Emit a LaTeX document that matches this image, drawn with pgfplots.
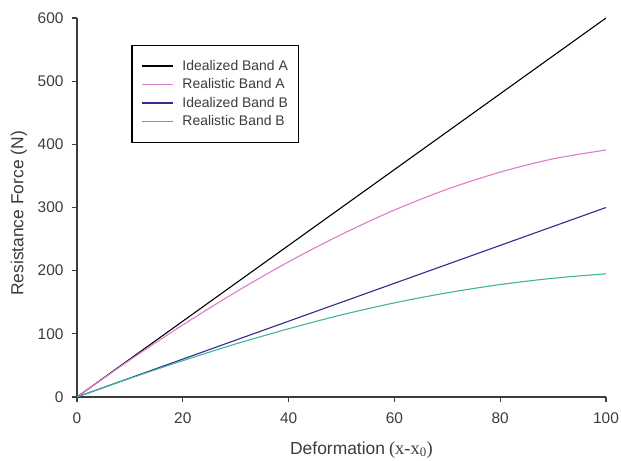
\documentclass[border=0pt]{standalone}
\usepackage{pgfplots}
\pgfplotsset{compat=1.18}
\usepackage{fontspec}
\setmainfont{Liberation Sans}
\newfontfamily\serifpart{Liberation Serif}

\definecolor{realA}{RGB}{222,125,200}
\definecolor{idealB}{RGB}{45,45,140}
\definecolor{tealB}{RGB}{65,180,155}
\definecolor{axisgray}{RGB}{60,60,60}

\begin{document}
\begin{tikzpicture}[x=1bp,y=1bp]
  \useasboundingbox (-77,-64) rectangle (544,397);
  \begin{axis}[
    at={(0,0)}, anchor=south west,
    scale only axis,
    width=529bp, height=379bp,
    xmin=0, xmax=100,
    ymin=0, ymax=600,
    axis lines=left,
    axis line style={-, line width=1.4bp, axisgray},
    tick align=outside,
    major tick length=5bp,
    tick style={axisgray, line width=1.2bp},
    xtick={0,20,...,100},
    ytick={0,100,...,600},
    ticklabel style={font=\fontsize{15.5}{16}\selectfont, text=axisgray},
    xticklabel style={yshift=-7bp},
    yticklabel style={xshift=-5bp},
    /pgf/number format/assume math mode=true,
    xlabel={Deformation\hspace{4bp}{\serifpart\fontsize{18.5}{19}\selectfont(x-x\textsubscript{0})}},
    ylabel={Resistance Force (N)},
    label style={font=\fontsize{17.5}{18}\selectfont, text=axisgray},
    xlabel style={yshift=-11bp, xshift=20bp},
    ylabel style={yshift=4bp, xshift=-6bp},
    legend style={at={(axis cs:10.3,558)}, anchor=north west,
      draw=black, line width=1.2bp,
      font=\fontsize{14}{15}\selectfont,
      inner xsep=9bp, inner ysep=13bp,
      row sep=3bp, column sep=7bp},
    legend cell align=left,
    legend image post style={xscale=1.82, line width=1.4bp},
  ]
    \addplot[color=black, line width=1.1bp] coordinates {(0,0) (100,600)};
    \addlegendentry{\textcolor{axisgray}{Idealized Band A}}
    \addplot[color=realA, line width=1.1bp, smooth] coordinates {
      (0,0) (10,58.6) (20,114.1) (30,166.1) (40,214) (50,257.4)
      (60,296) (70,329) (80,356) (90,377) (100,391)};
    \addlegendentry{\textcolor{axisgray}{Realistic Band A}}
    \addplot[color=idealB, line width=1.1bp] coordinates {(0,0) (100,300)};
    \addlegendentry{\textcolor{axisgray}{Idealized Band B}}
    \addplot[color=tealB, line width=1.1bp, smooth] coordinates {
      (0,0) (10,29.5) (20,57.5) (30,84) (40,108) (50,130)
      (60,149) (70,165) (80,178) (90,188) (100,195)};
    \addlegendentry{\textcolor{axisgray}{Realistic Band B}\rule[-16bp]{0pt}{1bp}}
  \end{axis}
\end{tikzpicture}
\end{document}
